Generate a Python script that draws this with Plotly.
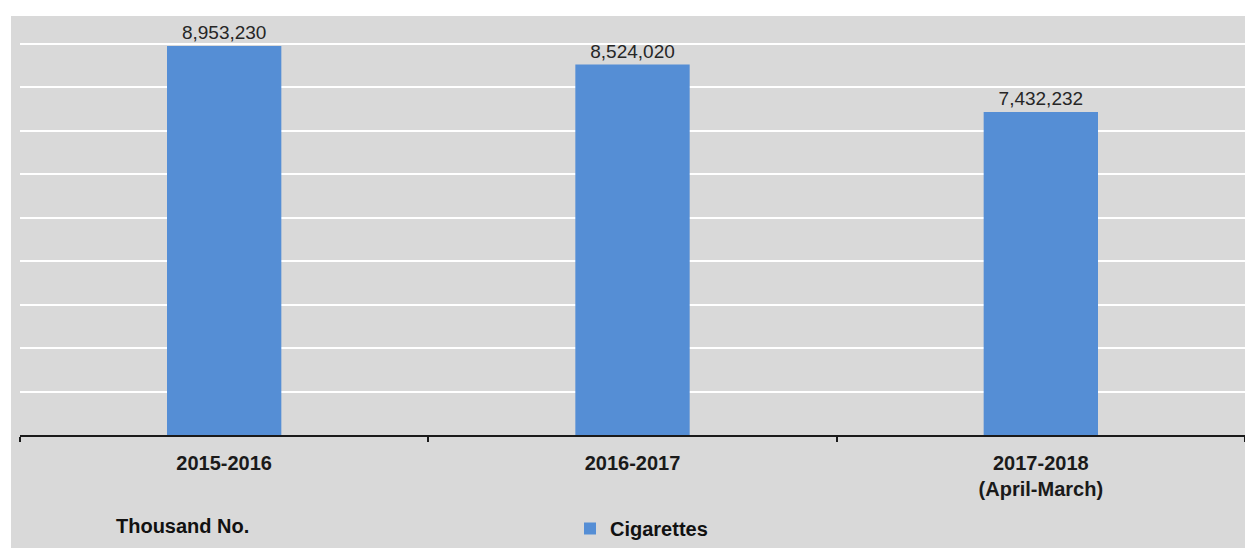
import plotly.graph_objects as go

categories = ["2015-2016", "2016-2017", "2017-2018<br>(April-March)"]
values = [8953230, 8524020, 7432232]
labels = ["8,953,230", "8,524,020", "7,432,232"]
series_name = "Cigarettes"
unit_note = "Thousand No."

BG = "#d9d9d9"
BAR = "#558ed5"

W, H = 1245, 548
ml, mr, mt, mb = 20, 0, 16, 548 - 436
pw = W - ml - mr
ph = H - mt - mb

def px_x(p):
    return (p - ml) / pw

def px_y(p):
    return (H - mb - p) / ph

fig = go.Figure()
fig.add_trace(go.Bar(
    x=categories, y=values, name=series_name,
    marker=dict(color=BAR, line=dict(width=0)),
    text=labels, textposition="outside", cliponaxis=False,
    textfont=dict(family="Liberation Sans, Arial", size=19, color="#262626"),
))

fig.update_layout(
    width=W, height=H,
    margin=dict(l=ml, r=mr, t=mt, b=mb, pad=0),
    paper_bgcolor=BG, plot_bgcolor=BG,
    bargap=0.72,
    showlegend=True,
    legend=dict(orientation="h", x=px_x(570), y=px_y(530), xanchor="left", yanchor="middle",
                font=dict(family="Liberation Sans, Arial", size=20, color="#111111", weight="bold"),
                bgcolor="rgba(0,0,0,0)"),
    font=dict(family="Liberation Sans, Arial"),
)
fig.update_xaxes(
    showline=True, linecolor="#1a1a1a", linewidth=1.5,
    ticks="outside", tickson="boundaries", ticklen=5, tickcolor="#1a1a1a", tickwidth=1.5,
    ticklabelstandoff=9,
    tickfont=dict(family="Liberation Sans, Arial", size=20, color="#1a1a1a", weight="bold"),
    showgrid=False,
)
fig.update_yaxes(
    range=[0, 9.642e6], dtick=1e6, showticklabels=False,
    showgrid=True, gridcolor="#ffffff", gridwidth=1.5, zeroline=False,
)
# white strips outside the gray chart area (top and left)
fig.add_shape(type="rect", xref="paper", yref="paper", x0=px_x(0), x1=px_x(1300), y0=1, y1=px_y(0),
              fillcolor="white", line=dict(width=0), layer="below")
fig.add_shape(type="rect", xref="paper", yref="paper", x0=px_x(0), x1=px_x(11), y0=px_y(600), y1=px_y(0),
              fillcolor="white", line=dict(width=0), layer="below")
fig.add_annotation(text="<b>" + unit_note + "</b>", xref="paper", yref="paper",
                   x=px_x(182), y=px_y(527), xanchor="center", yanchor="middle", showarrow=False,
                   font=dict(family="Liberation Sans, Arial", size=20, color="#111111"))

fig.write_html("out.html", config={"displayModeBar": False},
               post_script="document.body.style.margin='0';document.body.style.overflow='hidden';")
